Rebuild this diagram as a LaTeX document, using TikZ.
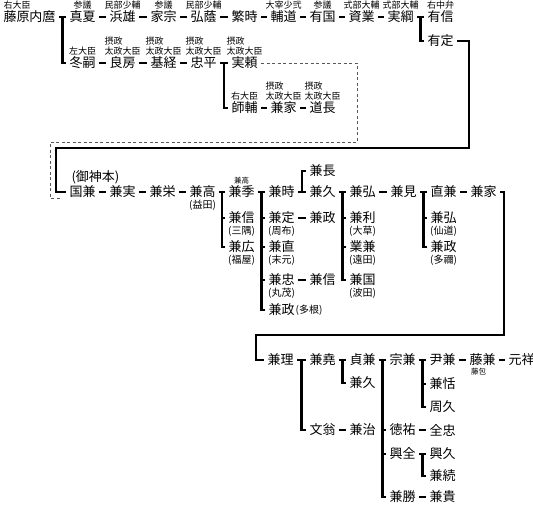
\documentclass[tikz,border=0pt]{standalone}
\usepackage{fontspec}
\setmainfont{Noto Sans CJK JP}
\usetikzlibrary{positioning,calc}

\begin{document}
\begin{tikzpicture}[x=1pt, y=-1pt,
    person/.style={font=\fontsize{13}{15}\selectfont, inner sep=0pt, outer sep=3.5pt, anchor=west},
    note/.style={font=\fontsize{9}{10.5}\selectfont, inner sep=0pt, align=left},
    tiny/.style={font=\fontsize{7.5}{8}\selectfont, inner sep=0pt},
    alias/.style={font=\fontsize{10}{11}\selectfont, inner sep=0pt},
    link/.style={line width=2.6pt},
    dashline/.style={draw=black!65, line width=0.8pt, dash pattern=on 3pt off 2.5pt},
]
\useasboundingbox (0,0) rectangle (533,506);

% first line
\node[person] (uchimaro) at (0,17) {藤原内麿};
\node[person] (manatsu) at (66,17) {真夏};
\node[person] (hamao) at (106,17) {浜雄};
\node[person] (iemune) at (147,17) {家宗};
\node[person] (hirokage) at (187,17) {弘蔭};
\node[person] (shigetoki) at (228,17) {繁時};
\node[person] (sukemichi) at (267,17) {輔道};
\node[person] (arikuni) at (306,17) {有国};
\node[person] (sukenari) at (345,17) {資業};
\node[person] (sanetsuna) at (384,17) {実綱};
\node[person] (arinobu) at (424,17) {有信};
\node[person] (arisada) at (424,41) {有定};

\node[note, above=-2pt of uchimaro.north west, anchor=south west, xshift=3.5pt] (uchimaro-t) {右大臣};
\node[note, above=-2pt of manatsu] (manatsu-t) {参議};
\node[note, above=-2pt of hamao] (hamao-t) {民部少輔};
\node[note, above=-2pt of iemune] (iemune-t) {参議};
\node[note, above=-2pt of hirokage] (hirokage-t) {民部少輔};
\node[note, above=-2pt of sukemichi] (sukemichi-t) {大宰少弐};
\node[note, above=-2pt of arikuni] (arikuni-t) {参議};
\node[note, above=-2pt of sukenari] (sukenari-t) {式部大輔};
\node[note, above=-2pt of sanetsuna] (sanetsuna-t) {式部大輔};
\node[note, above=-2pt of arinobu] (arinobu-t) {右中弁};

% Fujiwara regents
\node[person] (fuyutsugu) at (66,63) {冬嗣};
\node[person] (yoshifusa) at (106,63) {良房};
\node[person] (mototsune) at (147,63) {基経};
\node[person] (tadahira) at (187,63) {忠平};
\node[person] (saneyori) at (228,63) {実頼};
\node[person] (morosuke) at (228,108) {師輔};
\node[person] (kaneie) at (267,108) {兼家};
\node[person] (michinaga) at (306,108) {道長};

\node[note, above=-2pt of fuyutsugu] (fuyutsugu-t) {左大臣};
\node[note, above=-2pt of yoshifusa] (yoshifusa-t) {摂政\\太政大臣};
\node[note, above=-2pt of mototsune] (mototsune-t) {摂政\\太政大臣};
\node[note, above=-2pt of tadahira] (tadahira-t) {摂政\\太政大臣};
\node[note, above=-2pt of saneyori] (saneyori-t) {摂政\\太政大臣};
\node[note, above=-2pt of morosuke] (morosuke-t) {右大臣};
\node[note, above=-2pt of kaneie] (kaneie-t) {摂政\\太政大臣};
\node[note, above=-2pt of michinaga] (michinaga-t) {摂政\\太政大臣};

\draw[link] (uchimaro) -- (manatsu) -- (hamao) -- (iemune) -- (hirokage) -- (shigetoki) -- (sukemichi) -- (arikuni) -- (sukenari) -- (sanetsuna) -- (arinobu);
\coordinate (tee-uchimaro) at ($(uchimaro.east)!.5!(manatsu.west)$);
\draw[link] (tee-uchimaro) |- (fuyutsugu);
\coordinate (tee-sanetsuna) at ($(sanetsuna.east)!.5!(arinobu.west)$);
\draw[link] (tee-sanetsuna) |- (arisada);

\draw[link] (fuyutsugu) -- (yoshifusa) -- (mototsune) -- (tadahira) -- (saneyori);
\coordinate (tee-tadahira) at ($(tadahira.east)!.5!(saneyori.west)$);
\draw[link] (tee-tadahira) |- (morosuke);
\draw[link] (morosuke) -- (kaneie) -- (michinaga);

% Mikami line
\node[person] (kunikane) at (66,192) {国兼};
\node[person] (kanezane) at (106,192) {兼実};
\node[person] (kaneyoshi) at (146,192) {兼栄};
\node[person] (kanetaka) at (186,192) {兼高};
\node[person] (kanesue) at (225,192) {兼季};
\node[person] (kanenobu) at (225,218) {兼信};
\node[person] (kanehiro) at (225,247) {兼広};
\node[person] (kanetoki) at (265,192) {兼時};
\node[person] (kanesada) at (265,218) {兼定};
\node[person] (kanenao) at (265,247) {兼直};
\node[person] (kanetada) at (265,280) {兼忠};
\node[person] (kanemasa) at (265,310) {兼政};
\node[person] (kanenaga) at (306,171) {兼長};
\node[person] (kanehisa) at (306,192) {兼久};
\node[person] (kanemasa2) at (306,218) {兼政};
\node[person] (kanenobu2) at (306,280) {兼信};
\node[person] (kanehiro2) at (346,192) {兼弘};
\node[person] (kanetoshi) at (346,218) {兼利};
\node[person] (narikane) at (346,247) {業兼};
\node[person] (kanekuni) at (346,280) {兼国};
\node[person] (kanemi) at (387,192) {兼見};
\node[person] (naokane) at (427,192) {直兼};
\node[person] (kanehiro3) at (427,218) {兼弘};
\node[person] (kanemasa3) at (427,247) {兼政};
\node[person] (kaneie2) at (467,192) {兼家};

\node[person, above=-5pt of kunikane.north west, anchor=south west, xshift=2pt] (kunikane-t) {(御神本)};
\node[tiny, above=-2pt of kanesue] (kanesue-t) {兼高};
\node[alias, below=-1.5pt of kanetaka] (kanetaka-a) {(益田)};
\node[alias, below=-1.5pt of kanenobu] (kanenobu-a) {(三隅)};
\node[alias, below=-1.5pt of kanehiro] (kanehiro-a) {(福屋)};
\node[alias, below=-1.5pt of kanesada] (kanesada-a) {(周布)};
\node[alias, below=-1.5pt of kanenao] (kanenao-a) {(末元)};
\node[alias, below=-1.5pt of kanetada] (kanetada-a) {(丸茂)};
\node[alias, right=-2.5pt of kanemasa] (kanemasa-a) {(多根)};
\node[alias, below=-1.5pt of kanetoshi] (kanetoshi-a) {(大草)};
\node[alias, below=-1.5pt of narikane] (narikane-a) {(遠田)};
\node[alias, below=-1.5pt of kanekuni] (kanekuni-a) {(波田)};
\node[alias, below=-1.5pt of kanehiro3] (kanehiro3-a) {(仙道)};
\node[alias, below=-1.5pt of kanemasa3] (kanemasa3-a) {(多禰)};

\coordinate (box-ne) at (357,142);
\coordinate (box-sw) at (50,198);
\coordinate (box-end) at (62,198);
\draw[dashline] (saneyori) -| (box-ne) -| (box-sw) -- (box-end);

\coordinate (turn-e) at (469,148);
\coordinate (turn-w) at (56,192);
\draw[link] (arisada) -| (turn-e) -| (turn-w) -- (kunikane);

\draw[link] (kunikane) -- (kanezane) -- (kaneyoshi) -- (kanetaka) -- (kanesue) -- (kanetoki) -- (kanehisa) -- (kanehiro2) -- (kanemi) -- (naokane) -- (kaneie2);
\coordinate (tee-kanetaka) at ($(kanetaka.east)!.5!(kanesue.west)$);
\draw[link] (tee-kanetaka) |- (kanehiro);
\draw[link] (tee-kanetaka |- kanenobu) -- (kanenobu);
\coordinate (tee-kanesue) at ($(kanesue.east)!.5!(kanetoki.west)$);
\draw[link] (tee-kanesue) |- (kanemasa);
\draw[link] (tee-kanesue |- kanesada) -- (kanesada);
\draw[link] (tee-kanesue |- kanenao) -- (kanenao);
\draw[link] (tee-kanesue |- kanetada) -- (kanetada);
\coordinate (tee-kanetoki) at ($(kanetoki.east)!.5!(kanehisa.west)$);
\draw[link] (tee-kanetoki) |- (kanenaga);
\draw[link] (kanesada) -- (kanemasa2);
\draw[link] (kanetada) -- (kanenobu2);
\coordinate (tee-kanehisa) at ($(kanehisa.east)!.5!(kanehiro2.west)$);
\draw[link] (tee-kanehisa) |- (kanekuni);
\draw[link] (tee-kanehisa |- kanetoshi) -- (kanetoshi);
\draw[link] (tee-kanehisa |- narikane) -- (narikane);
\coordinate (tee-kanemi) at ($(kanemi.east)!.5!(naokane.west)$);
\draw[link] (tee-kanemi) |- (kanemasa3);
\draw[link] (tee-kanemi |- kanehiro3) -- (kanehiro3);

% later line
\node[person] (kanemichi) at (264,360) {兼理};
\node[person] (kanetaka2) at (306,360) {兼堯};
\node[person] (sadakane) at (346,360) {貞兼};
\node[person] (munekane) at (386,360) {宗兼};
\node[person] (tadakane) at (426,360) {尹兼};
\node[person] (fujikane) at (466,360) {藤兼};
\node[person] (motoyoshi) at (505,360) {元祥};
\node[person] (kanehisa2) at (346,383) {兼久};
\node[person] (kaneyasu) at (426,384) {兼恬};
\node[person] (chikahisa) at (426,407) {周久};
\node[person] (bunno) at (306,430) {文翁};
\node[person] (kaneharu) at (346,430) {兼治};
\node[person] (tokusuke) at (386,430) {徳祐};
\node[person] (zenchu) at (426,430) {全忠};
\node[person] (kouzen) at (386,454) {興全};
\node[person] (okihisa) at (426,454) {興久};
\node[person] (kanetsugu) at (426,476) {兼続};
\node[person] (kanekatsu) at (386,497) {兼勝};
\node[person] (kanetaka3) at (426,497) {兼貴};
\node[tiny, below=-1.5pt of fujikane.south west, anchor=north west, xshift=5pt] (fujikane-a) {藤包};

\coordinate (turn-e2) at (504,335);
\coordinate (turn-w2) at (256,360);
\draw[link] (kaneie2) -| (turn-e2) -| (turn-w2) -- (kanemichi);

\draw[link] (kanemichi) -- (kanetaka2) -- (sadakane) -- (munekane) -- (tadakane) -- (fujikane) -- (motoyoshi);
\coordinate (tee-kanemichi) at ($(kanemichi.east)!.5!(kanetaka2.west)$);
\draw[link] (tee-kanemichi) |- (bunno);
\coordinate (tee-kanetaka2) at ($(kanetaka2.east)!.5!(sadakane.west)$);
\draw[link] (tee-kanetaka2) |- (kanehisa2);
\coordinate (tee-sadakane) at ($(sadakane.east)!.5!(munekane.west)$);
\draw[link] (tee-sadakane) |- (kanekatsu);
\draw[link] (tee-sadakane |- tokusuke) -- (tokusuke);
\draw[link] (tee-sadakane |- kouzen) -- (kouzen);
\coordinate (tee-munekane) at ($(munekane.east)!.5!(tadakane.west)$);
\draw[link] (tee-munekane) |- (chikahisa);
\draw[link] (tee-munekane |- kaneyasu) -- (kaneyasu);
\draw[link] (bunno) -- (kaneharu);
\draw[link] (tokusuke) -- (zenchu);
\coordinate (tee-kouzen) at ($(kouzen.east)!.5!(okihisa.west)$);
\draw[link] (kouzen) -- (okihisa);
\draw[link] (tee-kouzen) |- (kanetsugu);
\draw[link] (kanekatsu) -- (kanetaka3);
\end{tikzpicture}
\end{document}
